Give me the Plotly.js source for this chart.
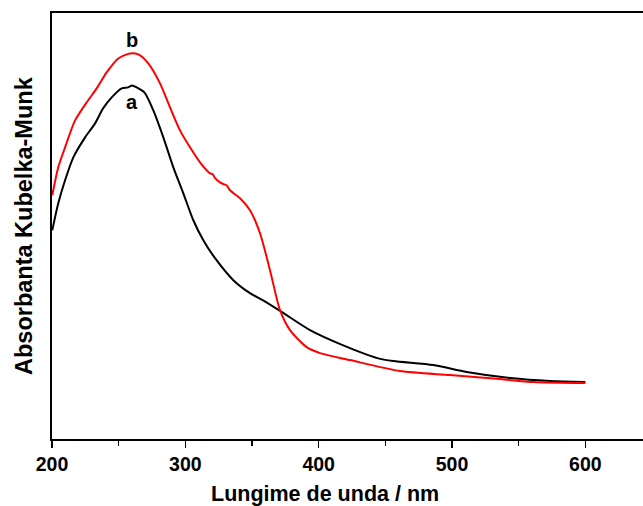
<!DOCTYPE html>
<html>
<head>
<meta charset="utf-8">
<script src="https://cdn.plot.ly/plotly-3.0.1.min.js"></script>
<style>
html,body{margin:0;padding:0;overflow:hidden;background:#fff;}
#chart{width:660px;height:506px;}
</style>
</head>
<body>
<div id="chart"></div>
<script>
// Wavelength (nm) and Kubelka-Munk absorbance (arbitrary units)
const wavelengthA = [200.2, 204.7, 209.8, 216, 224.8, 232.3, 238.3, 244.8, 252.3, 257, 260, 263.5, 269.3, 276, 283.5, 291, 298.5, 306, 313.5, 322.3, 336, 348.5, 358, 372.5, 393.5, 418, 444, 456, 486, 511, 543.5, 573.5, 600];
const absorbanceA = [2.18, 2.45, 2.68, 2.91, 3.11, 3.25, 3.40, 3.51, 3.60, 3.61, 3.63, 3.61, 3.56, 3.38, 3.11, 2.81, 2.55, 2.28, 2.08, 1.90, 1.68, 1.55, 1.48, 1.36, 1.18, 1.03, 0.90, 0.87, 0.83, 0.76, 0.70, 0.67, 0.66];

const wavelengthB = [200.2, 204.7, 209.8, 217.3, 226, 233.5, 241, 249.7, 258.5, 264.7, 272.2, 281, 288.5, 296, 303.5, 311, 318.5, 320.5, 322.5, 326, 329, 331, 333.5, 341, 348.5, 356, 363.5, 371, 378.5, 391, 401, 423.5, 461, 498.5, 536, 561, 600];
const absorbanceB = [2.53, 2.81, 3.01, 3.28, 3.46, 3.60, 3.76, 3.90, 3.95, 3.94, 3.85, 3.65, 3.41, 3.18, 3.01, 2.86, 2.75, 2.74, 2.70, 2.66, 2.64, 2.63, 2.58, 2.50, 2.38, 2.15, 1.78, 1.38, 1.18, 1.01, 0.95, 0.88, 0.77, 0.73, 0.69, 0.66, 0.65];

const labelNames = ["a", "b"];
const labelX = [260, 260];
const labelY = [3.46, 4.08];

const xTickVals = [200, 300, 400, 500, 600];

const FONT = "Liberation Sans, Arial, sans-serif";

const traces = [
  {x: wavelengthA, y: absorbanceA, mode: "lines", line: {color: "#000000", width: 2, shape: "spline", smoothing: 0.7}, name: labelNames[0]},
  {x: wavelengthB, y: absorbanceB, mode: "lines", line: {color: "#ff0000", width: 2, shape: "spline", smoothing: 0.7}, name: labelNames[1]}
];

const annotations = labelNames.map((t, i) => ({
  x: labelX[i], y: labelY[i], xref: "x", yref: "y", text: "<b>" + t + "</b>",
  showarrow: false, font: {family: FONT, size: 20, color: "#000"}
}));

annotations.push({
  xref: "paper", yref: "paper", x: (325 - 52) / 600, y: 0, yshift: -55,
  xanchor: "center", yanchor: "middle", showarrow: false,
  text: "<b>Lungime de unda / nm</b>", font: {family: FONT, size: 21.5, color: "#000"}
});
annotations.push({
  xref: "paper", yref: "paper", x: 0, y: 0.5, xshift: -28, textangle: -90,
  xanchor: "center", yanchor: "middle", showarrow: false,
  text: "<b>Absorbanta Kubelka-Munk</b>", font: {family: FONT, size: 23.5, color: "#000"}
});

const layout = {
  width: 660, height: 506,
  margin: {l: 52, r: 8, t: 12.5, b: 67},
  paper_bgcolor: "#fff", plot_bgcolor: "#fff",
  showlegend: false,
  font: {family: FONT, color: "#000"},
  xaxis: {
    range: [200, 650], tickvals: xTickVals, ticktext: xTickVals.map(v => "<b>" + v + "</b>"),
    ticks: "outside", ticklen: 7, tickwidth: 1.5, tickcolor: "#000",
    minor: {dtick: 50, tick0: 200, ticks: "outside", ticklen: 5, tickwidth: 1.5, tickcolor: "#000", showgrid: false},
    showline: true, linecolor: "#000", linewidth: 1.8, mirror: true, showgrid: false, zeroline: false,
    tickfont: {family: FONT, size: 19.5, color: "#000"}
  },
  yaxis: {
    range: [0.09, 4.355], showticklabels: false, ticks: "",
    showline: true, linecolor: "#000", linewidth: 1.8, mirror: true, showgrid: false, zeroline: false
  },
  annotations: annotations
};

Plotly.newPlot("chart", traces, layout, {displayModeBar: false, staticPlot: true});
</script>
</body>
</html>
